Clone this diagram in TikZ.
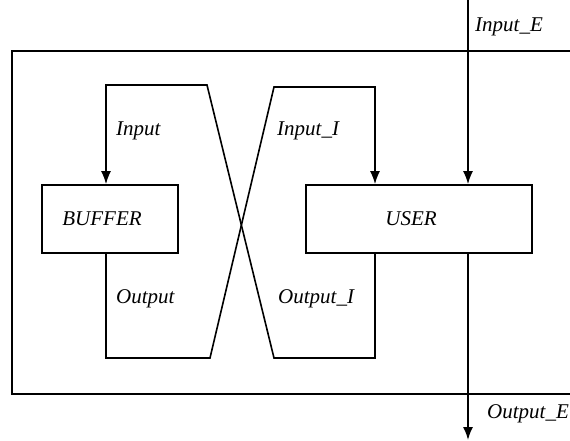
\documentclass[tikz,border=0pt]{standalone}
\usepackage{fontspec}
\setmainfont{Liberation Serif}
\usetikzlibrary{arrows.meta}
\begin{document}
\begin{tikzpicture}[x=1pt,y=-1pt,
  wire/.style={line width=1.6pt},
  flow/.style={wire,-{Latex[length=13pt,width=10pt]}},
  box/.style={draw,line width=1.6pt,rectangle,inner sep=0pt},
  lbl/.style={font=\fontsize{21}{25}\selectfont\itshape,inner sep=0pt,anchor=west}
]
\useasboundingbox (0,0) rectangle (570,441);
\clip (0,0) rectangle (570,441);

% enclosing system frame (its right side lies off the page)
\coordinate (fTR) at (600,51);
\coordinate (fTL) at (12,51);
\coordinate (fBL) at (12,394);
\coordinate (fBR) at (600,394);
\draw[wire] (fTR) -- (fTL) -- (fBL) -- (fBR);

% the two components
\node[box,minimum width=136pt,minimum height=68pt,
      label={[lbl,anchor=center,xshift=-8pt]center:BUFFER}] (buffer) at (110,219) {};
\node[box,minimum width=226pt,minimum height=68pt,
      label={[lbl,anchor=center,xshift=-8pt]center:USER}] (user) at (419,219) {};

% BUFFER output -> USER internal input
\coordinate (a1) at (106,358);
\coordinate (a2) at (210,358);
\coordinate (a3) at (274,87);
\coordinate (a4) at (375,87);
\draw[flow] (buffer.south -| a1) -- (a1) -- (a2) -- (a3) -- (a4) -- (a4 |- user.north);

% USER internal output -> BUFFER input
\coordinate (b1) at (375,358);
\coordinate (b2) at (274,358);
\coordinate (b3) at (207,85);
\coordinate (b4) at (106,85);
\draw[flow] (user.south -| b1) -- (b1) -- (b2) -- (b3) -- (b4) -- (b4 |- buffer.north);

% external input and output of USER
\coordinate (inE) at (468,0);
\coordinate (outE) at (468,440);
\draw[flow] (inE) -- (inE |- user.north);
\draw[flow] (user.south -| outE) -- (outE);

% port labels
\node[lbl] (lInput)   at (116,131) {Input};
\node[lbl] (lInputI)  at (277,131) {Input\_I};
\node[lbl] (lOutput)  at (116,299) {Output};
\node[lbl] (lOutputI) at (278,299) {Output\_I};
\node[lbl] (lInputE)  at (475,27)  {Input\_E};
\node[lbl] (lOutputE) at (487,414) {Output\_E};
\end{tikzpicture}
\end{document}
